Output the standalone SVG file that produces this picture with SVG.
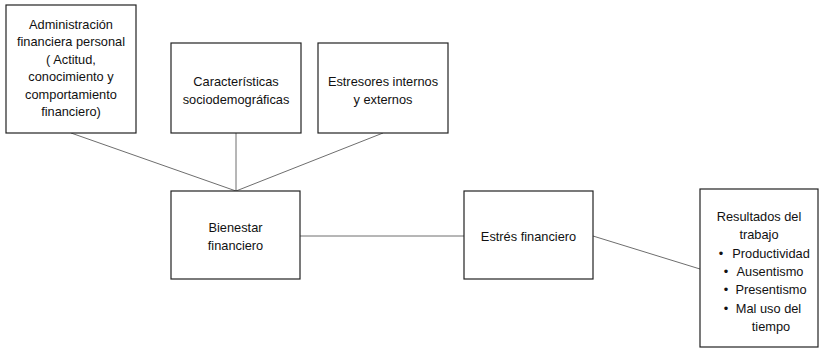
<svg xmlns="http://www.w3.org/2000/svg" width="823" height="350" viewBox="0 0 823 350">
<style>
.box{fill:#fff;stroke:#222;stroke-width:1.2}
.con{stroke:#6e6e6e;stroke-width:1;fill:none}
text{font-family:"Liberation Sans",Arial,sans-serif;font-size:12.8px;fill:#111;text-anchor:middle}
</style>
<rect width="823" height="350" fill="#fff"/>
<g id="connectors">
<line class="con" x1="71" y1="133" x2="236" y2="191"/>
<line class="con" x1="236" y1="133" x2="236" y2="191"/>
<line class="con" x1="383" y1="133" x2="236" y2="191"/>
<line class="con" x1="300" y1="236" x2="464" y2="236"/>
<line class="con" x1="593" y1="236" x2="700" y2="269"/>
</g>
<g id="admin">
<rect class="box" x="6" y="5" width="130" height="128"/>
<text x="71" y="28.5">Administración</text>
<text x="71" y="46">financiera personal</text>
<text x="71" y="63.5">( Actitud,</text>
<text x="71" y="81">conocimiento y</text>
<text x="71" y="98.5">comportamiento</text>
<text x="71" y="116">financiero)</text>
</g>
<g id="caracteristicas">
<rect class="box" x="171" y="43" width="130" height="90"/>
<text x="236" y="85.5">Características</text>
<text x="236" y="103.5">sociodemográficas</text>
</g>
<g id="estresores">
<rect class="box" x="318" y="43" width="130" height="90"/>
<text x="383" y="85.5">Estresores internos</text>
<text x="383" y="103.5">y externos</text>
</g>
<g id="bienestar">
<rect class="box" x="171" y="191" width="129" height="88"/>
<text x="235.5" y="231.5">Bienestar</text>
<text x="235.5" y="249.5">financiero</text>
</g>
<g id="estres">
<rect class="box" x="464" y="191" width="129" height="88"/>
<text x="528.5" y="240.5">Estrés financiero</text>
</g>
<g id="resultados">
<rect class="box" x="700" y="189" width="118" height="158"/>
<text x="759" y="221">Resultados del</text>
<text x="759" y="239.3">trabajo</text>
<text x="721" y="257.5">•</text>
<text x="771" y="257.5">Productividad</text>
<text x="726" y="276">•</text>
<text x="770" y="276">Ausentismo</text>
<text x="726" y="294.3">•</text>
<text x="771" y="294.3">Presentismo</text>
<text x="726" y="312.6">•</text>
<text x="768.5" y="312.6">Mal uso del</text>
<text x="771" y="331">tiempo</text>
</g>
</svg>
